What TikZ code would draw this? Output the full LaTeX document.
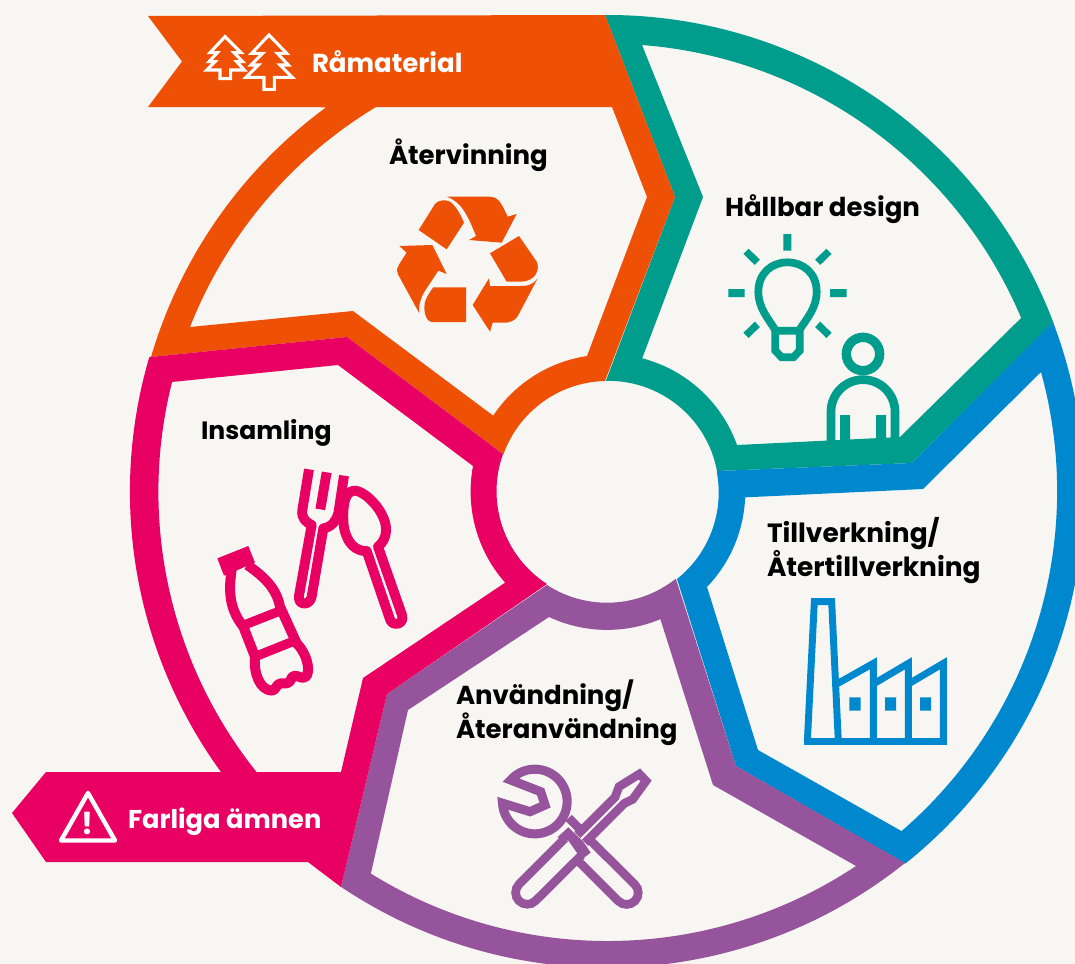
\documentclass[tikz,border=0pt]{standalone}
\usepackage{fontspec}
\setmainfont{Poppins}
\definecolor{bgc}{HTML}{F7F6F2}
\definecolor{orangec}{HTML}{EE5006}
\definecolor{tealc}{HTML}{009C8C}
\definecolor{bluec}{HTML}{0088CF}
\definecolor{purplec}{HTML}{96549C}
\definecolor{pinkc}{HTML}{E80062}
\tikzset{
  band/.style={fill=#1,even odd rule,draw=none},
  label/.style={anchor=base west,inner sep=0pt,outer sep=0pt,font=\fontsize{19.5pt}{25.5pt}\selectfont\bfseries,align=left},
  z1/.style={x=.25pt,y=-.25pt}
}
\begin{document}
\begin{tikzpicture}[x=.75pt,y=-.75pt]
\useasboundingbox (0,0) rectangle (1075,964);
\fill[bgc] (0,0) rectangle (1075,964);
\begin{scope}
\clip (0,0) rectangle (1075,964);
% teal
\path[band=tealc] (605,15) arc[start angle=-90.3,end angle=-20.8,radius=477] -- (912,463) -- (717,471) arc[start angle=-10.6,end angle=-91.3,radius=110.5] -- (675,197) -- cycle
 (642,45) arc[start angle=-85.6,end angle=-22.9,radius=449] -- (900,437) -- (737,445) arc[start angle=-19.7,end angle=-75.4,radius=137.5] -- (703,197) -- cycle;
% orange
\path[band=orangec] (148,16) -- (605,15) -- (675,197) -- (605,381) arc[start angle=-91.3,end angle=-160.3,radius=110.5] -- (347,337) -- (151,357) arc[start angle=-163.6,end angle=-126.3,radius=477] -- (148,107) -- (182,61.5) -- cycle
 (612,107) -- (647,197) -- (587,356) arc[start angle=-98.6,end angle=-146.3,radius=137.5] -- (353,311) -- (190,327) arc[start angle=-158.5,end angle=-121.1,radius=449] -- cycle;
% blue
\path[band=bluec] (717,471) -- (912,463) -- (1053,322) arc[start angle=-20.8,end angle=51.3,radius=477] -- (736,766) -- (677,579) arc[start angle=51.5,end angle=-10.6,radius=110.5] -- cycle
 (1041,372) arc[start angle=-15.4,end angle=49.2,radius=449] -- (758,750) -- (707,587) arc[start angle=43.8,end angle=2.3,radius=137.5] -- (923,489) -- cycle;
% purple
\path[band=purplec] (341,887) -- (387,694) -- (547,585) arc[start angle=122.9,end angle=51.5,radius=110.5] -- (736,766) -- (905,863) arc[start angle=51.3,end angle=124,radius=477] -- cycle
 (371,873) -- (408,710) -- (549,617) arc[start angle=115,end angle=67.2,radius=137.5] -- (713,785) -- (856,866) arc[start angle=56.4,end angle=121.8,radius=449] -- cycle;
% pink
\path[band=pinkc] (151,357) -- (347,337) -- (503,454) arc[start angle=199.7,end angle=122.9,radius=110.5] -- (387,694) -- (341,887) -- (308,862) -- (46,862) -- (12,813) -- (46,772) -- (221,772) arc[start angle=144,end angle=196.4,radius=477] -- cycle
 (172,382) -- (338,365) -- (473,466) arc[start angle=190.7,end angle=138.5,radius=137.5] -- (363,678) -- (341,772) -- (256.5,772) arc[start angle=141.4,end angle=194.1,radius=449] -- cycle;
\end{scope}

% trees
\begin{scope}[shift={(140,0)},z1]
\draw[white,line width=2.3pt,miter limit=4] (255,110) -- (303,158) -- (282,158) -- (308,185) -- (290,185) -- (313,210) -- (272,210) -- (272,236) -- (240,236) -- (240,210) -- (200,210) -- (225,185) -- (207,185) -- (232,158) -- (210,158) -- cycle;
\draw[white,line width=2.3pt,miter limit=4] (387,105) -- (440,160) -- (412,160) -- (445,195) -- (420,195) -- (457,232) -- (403,232) -- (403,268) -- (372,268) -- (372,232) -- (318,232) -- (355,195) -- (333,195) -- (368,160) -- (335,160) -- cycle;
% recycle
\fill[orangec] (836,690) -- (885,612) .. controls (895,600) and (915,598) .. (930,605) .. controls (950,620) and (962,645) .. (972,668) -- (920,748) -- cycle;
\fill[orangec] (920,590) -- (1045,590) .. controls (1075,590) and (1082,605) .. (1103,650) -- (1130,642) -- (1085,728) -- (987,720) -- (1008,708) .. controls (985,650) and (965,605) .. (920,590) -- cycle;
\fill[orangec] (1050,760) -- (1137,708) -- (1190,785) .. controls (1200,805) and (1190,845) .. (1140,845) -- (1100,845) -- cycle;
\fill[orangec] (1193,835) .. controls (1175,858) and (1160,858) .. (1140,858) -- (1050,858) -- (1047,835) -- (998,915) -- (1050,995) -- (1058,968) -- (1100,968) .. controls (1120,965) and (1130,955) .. (1135,945) -- cycle;
\fill[orangec] (880,862) -- (978,862) -- (978,966) -- (875,966) .. controls (855,962) and (850,930) .. (855,905) .. controls (860,890) and (870,875) .. (880,862) -- cycle;
\fill[orangec] (778,738) -- (877,735) -- (920,822) -- (895,812) -- (860,865) .. controls (842,890) and (835,915) .. (838,940) -- (775,825) .. controls (768,810) and (772,800) .. (778,792) -- (800,758) -- cycle;
\end{scope}

% bulb and person
\begin{scope}[shift={(700,180)},z1]
\fill[tealc] (250,162) rectangle (274,212) (85,327) rectangle (134,351) (390,327) rectangle (440,351);
\draw[tealc,line width=5.5pt] (138,214) -- (172,247) (387,214) -- (353,247) (138,466) -- (172,433) (387,466) -- (353,433);
\draw[tealc,line width=5.8pt] (227,452) .. controls (205,415) and (175,385) .. (175,335) .. controls (175,280) and (215,247) .. (262,247) .. controls (310,247) and (350,280) .. (350,335) .. controls (350,385) and (320,415) .. (297,452);
\draw[tealc,line width=5.8pt,line join=miter] (226,452) -- (299,452) -- (299,512) -- (280,532) -- (245,532) -- (226,512) -- cycle;
\draw[tealc,line width=7pt] (489,522) circle[radius=50];
\draw[tealc,line width=6.5pt] (393,790) -- (393,695) arc[start angle=180,end angle=360,radius=96] -- (585,780);
\fill[tealc] (420,705) rectangle (450,790) (528,705) rectangle (558,790);
\end{scope}

% fork, spoon, bottle
\begin{scope}[shift={(190,450)},z1]
\draw[pinkc,line width=7.4pt,line join=round] (357,58) -- (337,180) .. controls (333,205) and (350,218) .. (365,225) -- (327,437) .. controls (322,468) and (360,468) .. (365,440) -- (400,235) .. controls (425,232) and (440,210) .. (445,190) -- (462,77);
\draw[pinkc,line width=7.4pt] (410,67) -- (391,178);
\draw[pinkc,line width=7.4pt,line join=round] (530,303) .. controls (480,305) and (460,250) .. (460,210) .. controls (458,150) and (470,122) .. (495,122) .. controls (530,125) and (590,190) .. (588,240) .. controls (588,265) and (575,282) .. (564,290) -- (636,495) .. controls (645,525) and (606,530) .. (600,508) -- cycle;
\fill[pinkc] (82,325) -- (175,288) -- (195,338) -- (102,377) -- cycle;
\draw[pinkc,line width=7.5pt,line join=round] (125,358) .. controls (118,410) and (112,470) .. (160,530) -- (195,620) .. controls (190,670) and (210,720) .. (245,722) .. controls (258,722) and (258,702) .. (272,700) .. controls (285,700) and (298,705) .. (305,683) .. controls (312,672) and (325,680) .. (335,683) .. controls (365,690) and (360,620) .. (320,580) -- (270,470) .. controls (260,420) and (230,385) .. (172,345);
\draw[pinkc,line width=7pt] (155,528) -- (272,482) (195,620) -- (315,572);
\end{scope}

% factory
\begin{scope}[shift={(790,590)},z1]
\draw[bluec,line width=5.2pt,line join=miter] (52,455) -- (73,35) -- (125,35) -- (145,455);
\draw[bluec,line width=5.2pt] (42,455) -- (470,455);
\draw[bluec,line width=5.2pt,line join=miter] (135,285) -- (250,220) -- (250,455) (250,282) -- (355,220) -- (355,455) (355,282) -- (460,220) -- (460,455);
\fill[bluec] (178,322) rectangle (212,362) (285,322) rectangle (318,362) (390,322) rectangle (423,362);
\end{scope}

% wrench and screwdriver
\begin{scope}[shift={(470,750)},z1]
\draw[purplec,line width=6.8pt,line join=miter] (122,90) arc[start angle=221.7,end angle=537,radius=97] -- (180,185) -- (225,165) -- (212,125) -- cycle;
\draw[purplec,line width=6.5pt] (296,204) -- (332,240) (322,330) -- (445,453) arc[start angle=135,end angle=-45,radius=35] -- (360,270);
\draw[purplec,line width=6.5pt] (285,265) -- (147,403) arc[start angle=225,end angle=45,radius=35] -- (335,315);
\fill[purplec] (262,262) -- (295,232) -- (340,275) -- (362,308) -- (335,328) -- (295,272) -- cycle;
\draw[purplec,line width=6.5pt,line join=miter] (322,255) -- (435,142) -- (447,110) -- (508,72) -- (528,93) -- (488,148) -- (463,160) -- (345,278);
\end{scope}

% warning triangle
\draw[white,line width=3.3pt,line join=round] (88,793) -- (115,840.5) -- (61,840.5) -- cycle;

\node[label,white] (ramaterial) at (312,72) {Råmaterial};
\node[label] (atervinning) at (389,164) {Återvinning};
\node[label] (hallbar) at (725,216) {Hållbar design};
\node[label,anchor=north west,font=\fontsize{19.8pt}{25.5pt}\selectfont\bfseries] (tillverkning) at (767,517.5) {Tillverkning/\\Återtillverkning};
\node[label,font=\fontsize{18.8pt}{25.5pt}\selectfont\bfseries] (insamling) at (201,439.5) {Insamling};
\node[label,anchor=north west] (anvandning) at (456,680) {Användning/\\Återanvändning};
\node[label,white,font=\fontsize{19.3pt}{25.5pt}\selectfont\bfseries] (farliga) at (128,828) {Farliga ämnen};
\node[label,white,anchor=base,font=\fontsize{23pt}{25.5pt}\selectfont\bfseries] (varning) at (88,834) {!};
\end{tikzpicture}
\end{document}
